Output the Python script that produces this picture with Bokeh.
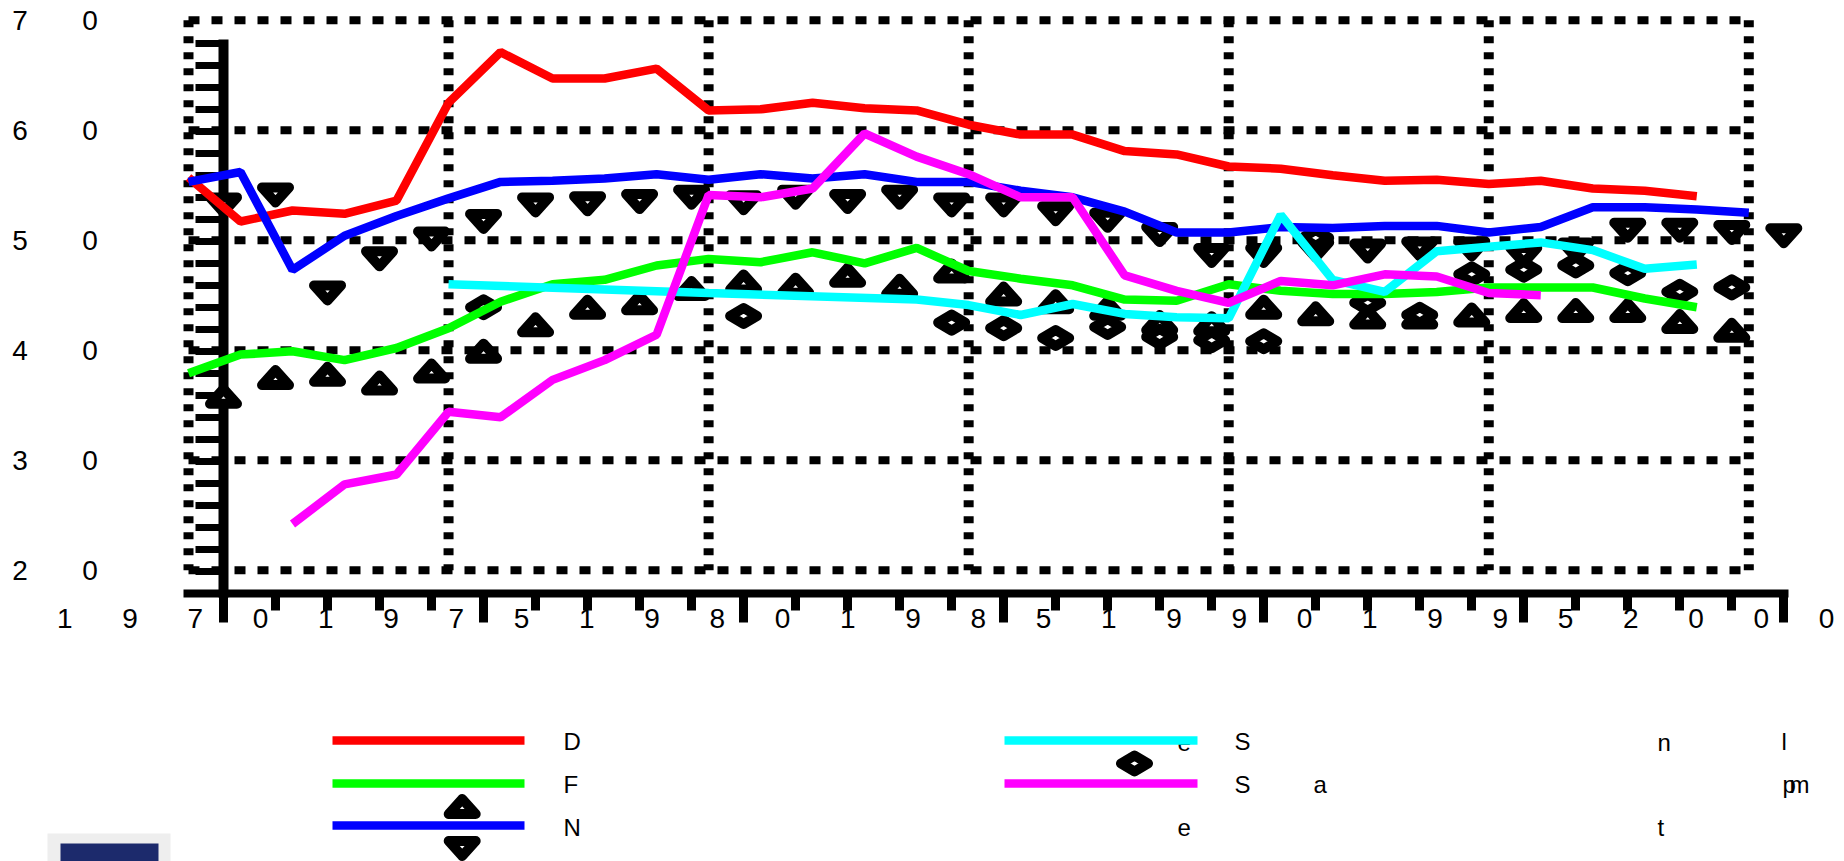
from bokeh.plotting import figure
from bokeh.models import Range1d, LinearAxis, FixedTicker, BoxAnnotation
from bokeh.core.properties import value
from bokeh.embed import file_html
from bokeh.resources import INLINE

# ---------------- data ----------------
grid_years = [1970, 1975, 1980, 1985, 1990, 1995, 2000]
grid_values = [20, 30, 40, 50, 60, 70]
x_tick_labels = ["1970", "1975", "1980", "1985", "1990", "1995", "2000"]
y_tick_labels = ["70", "60", "50", "40", "30", "20"]
axis_minor_years = list(range(1970, 2001))
axis_y_ticks = list(range(20, 71, 2))

d_years = list(range(1970, 2000))
d_values = [55.7, 51.7, 52.7, 52.4, 53.6, 62.5, 67.1, 64.7, 64.7, 65.6,
            61.8, 61.9, 62.5, 62.0, 61.8, 60.5, 59.6, 59.6, 58.1, 57.8,
            56.7, 56.5, 55.9, 55.4, 55.5, 55.1, 55.4, 54.7, 54.5, 54.0]

f_years = list(range(1970, 2000))
f_values = [37.9, 39.6, 39.9, 39.1, 40.2, 42.0, 44.4, 46.0, 46.4, 47.7,
            48.3, 48.0, 48.9, 47.9, 49.3, 47.2, 46.5, 45.9, 44.6, 44.5,
            46.0, 45.4, 45.1, 45.1, 45.3, 45.7, 45.7, 45.7, 44.7, 43.9]

n_years = list(range(1970, 2001))
n_values = [55.3, 56.2, 47.3, 50.4, 52.2, 53.8, 55.3, 55.4, 55.6, 56.0,
            55.5, 56.0, 55.6, 56.0, 55.3, 55.3, 54.5, 53.9, 52.6, 50.7,
            50.7, 51.2, 51.1, 51.3, 51.3, 50.7, 51.2, 53.0, 53.0, 52.8, 52.5]

c_years = [1975, 1980, 1984, 1985, 1986, 1987, 1988, 1989, 1990, 1991,
           1992, 1993, 1994, 1995, 1996, 1997, 1998, 1999]
c_values = [46.0, 45.2, 44.6, 44.1, 43.2, 44.2, 43.3, 43.0, 42.9, 52.3,
            46.4, 45.3, 49.0, 49.4, 49.8, 49.1, 47.4, 47.8]

m_years = list(range(1972, 1997))
m_values = [24.2, 27.8, 28.7, 34.4, 33.9, 37.3, 39.1, 41.4, 54.1, 53.9,
            54.7, 59.7, 57.6, 56.0, 53.9, 53.9, 46.8, 45.4, 44.3, 46.3,
            45.9, 46.9, 46.7, 45.2, 45.0]

# ---------------- layout helpers (page pixels -> data) ----------------
W, H, PAGE = 1844, 861, 0
X0, PPY = 188.0, 52.01      # page x of 1970, px per year
Y70, PPU = 19.7, 11.0       # page y of 70, px per unit
TDY = -8.5                  # text baseline correction (px)


def xd(px):
    return 1970 + (px - X0) / PPY


def yd(py):
    return 70 - (py - Y70) / PPU


SX = 35 / PPY   # axis/marker frame shift
SY = 23 / PPU

FONT = value("Liberation Sans")

p = figure(width=W, height=H,
           x_range=Range1d(xd(PAGE), xd(PAGE + W)),
           y_range=Range1d(yd(PAGE + H), yd(PAGE)),
           x_axis_type=None, y_axis_type=None,
           toolbar_location=None, output_backend="svg", min_border=0)
p.outline_line_color = None
p.background_fill_color = "white"
p.border_fill_color = "white"

p.extra_x_ranges = {"ax": Range1d(xd(PAGE) - SX, xd(PAGE + W) - SX)}
p.extra_y_ranges = {"ay": Range1d(yd(PAGE + H) + SY, yd(PAGE) + SY)}

# ---------------- axes (shifted frame) ----------------
xaxis = LinearAxis(x_range_name="ax", y_range_name="ay",
                   fixed_location=min(grid_values),
                   ticker=FixedTicker(ticks=grid_years, minor_ticks=axis_minor_years),
                   bounds=(1970 + (183 - X0 - 35) / PPY, 1970 + (1788 - X0 - 35) / PPY),
                   axis_line_width=8, axis_line_color="black",
                   major_tick_line_width=9, major_tick_out=29, major_tick_in=0,
                   minor_tick_line_width=9, minor_tick_out=17, minor_tick_in=0,
                   major_label_text_color=None, level="underlay")
yaxis = LinearAxis(x_range_name="ax", y_range_name="ay",
                   fixed_location=min(grid_years),
                   ticker=FixedTicker(ticks=axis_y_ticks, minor_ticks=[]),
                   bounds=(min(axis_y_ticks) - 4 / PPU, max(axis_y_ticks) + 3.4 / PPU),
                   axis_line_width=10, axis_line_color="black",
                   major_tick_line_width=7, major_tick_out=28, major_tick_in=0,
                   minor_tick_out=0, minor_tick_in=0,
                   major_label_text_color=None, level="underlay")
p.add_layout(yaxis, "left")
p.add_layout(xaxis, "below")

# ---------------- dotted grid ----------------
gx0, gx1 = min(grid_years), max(grid_years)
gy0, gy1 = min(grid_values), max(grid_values)
p.segment(x0=grid_years, x1=grid_years, y0=[gy1] * len(grid_years), y1=[gy0] * len(grid_years),
          line_color="black", line_width=10, line_dash="7 9", level="underlay")
p.segment(x0=[gx0] * len(grid_values), x1=[gx1] * len(grid_values), y0=grid_values, y1=grid_values,
          line_color="black", line_width=8, line_dash="11 12", level="underlay")

# ---------------- markers ----------------
HW, HH = 13.5 / PPY, 7.5 / PPU
DA, DB = 13.5 / PPY, 8.0 / PPU


def tri_up(xs, ys):
    return ([[x - HW, x + HW, x] for x in xs], [[y - HH, y - HH, y + HH] for y in ys])


def tri_down(xs, ys):
    return ([[x - HW, x + HW, x] for x in xs], [[y + HH, y + HH, y - HH] for y in ys])


def diamond(xs, ys):
    return ([[x - DA, x, x + DA, x] for x in xs], [[y, y + DB, y, y - DB] for y in ys])


MK = dict(fill_color="white", line_color="black", line_width=10, line_join="round")
for shape, xs, ys in [(tri_up, f_years, f_values), (tri_down, n_years, n_values),
                      (diamond, c_years, c_values)]:
    px_, py_ = shape(xs, ys)
    p.patches(px_, py_, x_range_name="ax", y_range_name="ay", **MK)

# ---------------- lines ----------------
series = [(d_years, d_values, "#FF0000"), (f_years, f_values, "#00FF00"),
          (n_years, n_values, "#0000FF"), (c_years, c_values, "#00FFFF"),
          (m_years, m_values, "#FF00FF")]
for xs, ys, col in series:
    p.line(xs, ys, line_color=col, line_width=8.5)

# ---------------- tick label characters ----------------
xchars = list("".join(x_tick_labels))
p.text(x=[xd(64.2 + 65.25 * k) for k in range(len(xchars))],
       y=[yd(626.7 + TDY)] * len(xchars), text=xchars,
       text_font=FONT, text_font_size="28px", text_align="center",
       text_baseline="alphabetic", text_color="black")

ytx, yty, ytt = [], [], []
for lab in y_tick_labels:
    v = float(lab)
    for k, ch in enumerate(lab):
        ytx.append(xd(19.5 + 70 * k))
        yty.append(v - (8.5 + TDY) / PPU)
        ytt.append(ch)
p.text(x=ytx, y=yty, text=ytt, text_font=FONT, text_font_size="28px",
       text_align="center", text_baseline="alphabetic", text_color="black")

# ---------------- legend ----------------
leg_txt = [("D", 563, 749), ("F", 563, 792.5), ("N", 563, 835),
           ("e", 1177, 750), ("S", 1234, 749), ("n", 1657, 750), ("l", 1781, 749),
           ("S", 1234, 792.5), ("a", 1313, 792.5), ("p", 1782, 792.5), ("m", 1789, 792.5),
           ("e", 1177, 835), ("t", 1657, 835)]
p.text(x=[xd(a) for _, a, _ in leg_txt], y=[yd(b + TDY) for _, _, b in leg_txt],
       text=[t for t, _, _ in leg_txt], text_font=FONT, text_font_size="24px",
       text_align="left", text_baseline="alphabetic", text_color="black")

leg_lines = [(332, 524, 740, "#FF0000"), (332, 524, 783, "#00FF00"), (332, 524, 825, "#0000FF"),
             (1004, 1197, 740, "#00FFFF"), (1004, 1197, 783, "#FF00FF")]
for a, b, yy, col in leg_lines:
    p.line([xd(a), xd(b)], [yd(yy), yd(yy)], line_color=col, line_width=8.5)

for shape, cx, cy in [(tri_up, 461.7, 806), (tri_down, 461.7, 848), (diamond, 1134, 763)]:
    px_, py_ = shape([xd(cx)], [yd(cy)])
    p.patches(px_, py_, **MK)

# ---------------- logo block ----------------
p.add_layout(BoxAnnotation(left=xd(47), right=xd(170), top=yd(833), bottom=yd(870),
                           fill_color="#eeeeee", fill_alpha=1, line_color=None))
p.add_layout(BoxAnnotation(left=xd(60), right=xd(158), top=yd(843), bottom=yd(870),
                           fill_color="#1c2a6c", fill_alpha=1, line_color=None))

open("out.html", "w").write(file_html(p, INLINE))
